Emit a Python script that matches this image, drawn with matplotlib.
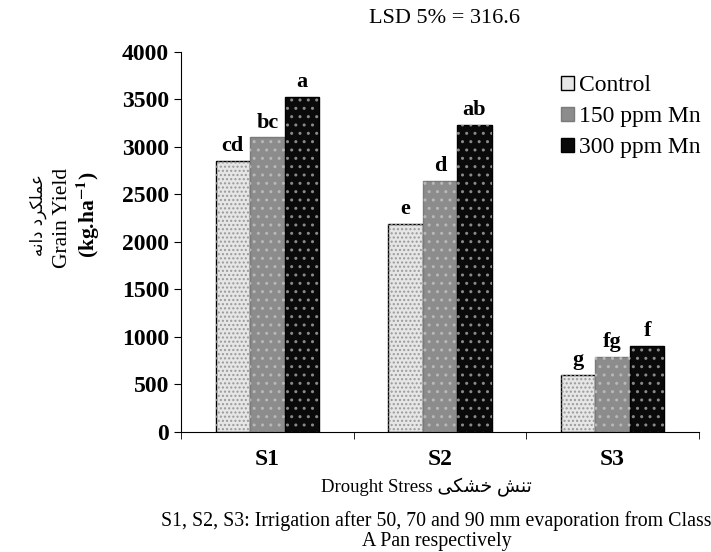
import numpy as np
import matplotlib.pyplot as plt

# Grain yield per drought stress level and Mn treatment
stress = ["S1", "S2", "S3"]
treatments = ["Control", "150 ppm Mn", "300 ppm Mn"]
control = [2850, 2190, 600]
mn150 = [3100, 2640, 790]
mn300 = [3530, 3230, 910]
letters_control = ["cd", "e", "g"]
letters_150 = ["bc", "d", "fg"]
letters_300 = ["a", "ab", "f"]

SERIF = ["Liberation Serif", "DejaVu Sans"]
plt.rcParams["font.family"] = SERIF
plt.rcParams["mathtext.fontset"] = "stix"
plt.rcParams["hatch.linewidth"] = 1.0

# Persian text written in visual order with presentation forms
fa_yield = "\uFEEA\uFEE7\uFE8D\uFEA9 \uFEA9\uFEAE\uFB91\uFEE0\uFEE4\uFECB"
fa_stress = "\uFBFD\uFB91\uFEB8\uFEA7 \uFEB6\uFEE8\uFE97"

fig = plt.figure(figsize=(7.11, 5.52), dpi=100)
ax = fig.add_axes([0.2546, 0.2174, 0.7284, 0.6884])

x = np.arange(len(stress))
w = 0.2
series = [control, mn150, mn300]
faces = ["#e6e6e6", "#8c8c8c", "#0a0a0a"]
hatch_cols = ["#9a9a9a", "#b8b8b8", "#8a8a8a"]
hatches = ["....", "..", ".."]
edges = ["black", "#7a7a7a", "black"]
labels = [letters_control, letters_150, letters_300]

handles = []
for i, vals in enumerate(series):
    pos = x + (i - 1) * w
    b = ax.bar(pos, vals, w, color=faces[i], edgecolor=edges[i], linewidth=1.0,
               label=treatments[i], zorder=2)
    ax.bar(pos, vals, w, fill=False, hatch=hatches[i], edgecolor=hatch_cols[i],
           linewidth=0, zorder=3)
    handles.append(b)
    for p, v, t in zip(pos, vals, labels[i]):
        ax.text(p, v + 50, t, ha="center", va="bottom", fontsize=16,
                fontweight="bold")

ax.set_xlim(-0.5, 2.5)
ax.set_ylim(0, 4000)
ax.set_yticks(range(0, 4001, 500))
ax.set_xticks(x)
ax.set_xticklabels(stress, fontsize=17, fontweight="bold")
ax.set_xticks([-0.5, 0.5, 1.5, 2.5], minor=True)
ax.tick_params(axis="x", which="major", length=0, pad=12)
ax.tick_params(axis="x", which="minor", length=5, direction="out")
ax.tick_params(axis="y", length=5, direction="out")
for lab in ax.get_yticklabels():
    lab.set_fontsize(17)
    lab.set_fontweight("bold")
for s in ["top", "right"]:
    ax.spines[s].set_visible(False)

leg = ax.legend(handles=handles, loc="upper right", bbox_to_anchor=(1.044, 0.995),
                frameon=False, fontsize=17, handlelength=0.55, handleheight=0.55,
                handletextpad=0.2, labelspacing=0.42)

fig.text(0.625, 0.967, "LSD 5% = 316.6", ha="center", va="center", fontsize=16)
fig.text(0.053, 0.61, fa_yield, rotation=90, ha="center", va="center",
         fontsize=12, family=["DejaVu Sans"])
fig.text(0.088, 0.605, "Grain Yield", rotation=90, ha="center", va="center",
         fontsize=15.5)
fig.text(0.124, 0.61, "(kg.ha$^{\\mathbf{-1}}$)", rotation=90, ha="center",
         va="center", fontsize=15.5, fontweight="bold")

fig.text(0.60, 0.116, "Drought Stress " + fa_stress, ha="center", va="center",
         fontsize=13.5)
fig.text(0.614, 0.056, "S1, S2, S3: Irrigation after 50, 70 and 90 mm evaporation from Class",
         ha="center", va="center", fontsize=14.3)
fig.text(0.614, 0.019, "A Pan respectively", ha="center", va="center", fontsize=14.3)

fig.savefig("out.png", dpi=100)
